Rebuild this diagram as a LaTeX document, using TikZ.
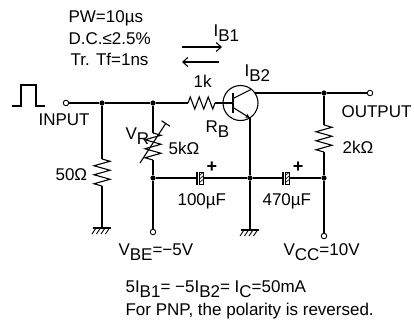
\documentclass[tikz,border=0pt]{standalone}
\usepackage{fontspec}
\setmainfont{Liberation Sans}
\usetikzlibrary{arrows.meta}
\newcommand\lowr[1]{\raisebox{-5pt}{#1}}
\begin{document}
\begin{tikzpicture}[x=1pt,y=-1pt,line width=1.1pt,
  lbl/.style={inner sep=0pt,anchor=base west,font=\fontsize{17}{20}\selectfont},
  plus/.style={inner sep=0pt,font=\fontsize{18}{19}\selectfont\bfseries},
  dot/.style={circle,fill,inner sep=0pt,minimum size=5.2pt},
  term/.style={circle,draw,fill=white,inner sep=0pt,minimum size=5.5pt,line width=0.9pt},
  resh/.pic={\draw (0,0) -- (2.25,-6) -- (6.75,6) -- (11.25,-6) -- (15.75,6) -- (20.25,-6) -- (24.75,6) -- (27,0);},
  resv/.pic={\draw (0,0) -- (8,2.25) -- (-8,6.75) -- (8,11.25) -- (-8,15.75) -- (8,20.25) -- (-8,24.75) -- (0,27);},
  gnd/.pic={\draw (-9,0) -- (9,0); \foreach \i in {-6,-1.5,3,7.5} \draw[line width=0.9pt] (\i,0) -- (\i-4,6);},
  ecap/.pic={\draw (0,-6.5) -- (0,6.5);
    \draw[line width=0.7pt] (2.5,-6) rectangle (6,6);
    \draw[line width=0.6pt] (2.5,-2.5) -- (6,-5.5) (2.5,1) -- (6,-2) (2.5,4.5) -- (6,1.5);},
  iarrow/.style={-{Straight Barb[length=5pt,width=9pt]}}
]
\useasboundingbox (0,0) rectangle (414,325);

% top texts
\node[lbl] (pw) at (68,22.5) {PW=10µs};
\node[lbl] (dc) at (68,44) {D.C.≤2.5\%};
\node[lbl] (trf) at (70,65) {Tr. Tf=1ns};
\node[lbl] (ib1) at (213,36) {I\lowr{B1}};
\coordinate (a1) at (182,47); \coordinate (a2) at (222,47);
\coordinate (a3) at (219,62); \coordinate (a4) at (182,62);
\draw[iarrow] (a1) -- (a2);
\draw[iarrow] (a3) -- (a4);

% pulse
\draw[line width=1.3pt] (12,106) -- (21,106) -- (21,85) -- (36,85) -- (36,106) -- (45,106);

% nodes
\node[term] (inp) at (66,103) {};
\node[dot] (j1) at (102,103) {};
\node[dot] (j2) at (153,103) {};
\node[dot] (j3) at (153,178) {};
\node[dot] (j4) at (250,178) {};
\node[dot] (j5) at (324,178) {};
\node[dot] (j6) at (324,93) {};
\node[term] (out) at (370,93) {};
\node[term] (vbe) at (153,232) {};
\node[term] (vcc) at (324,236) {};

% input line and RB
\coordinate (rbL) at (188,103); \coordinate (rbR) at (215,103);
\coordinate (bb) at (233,103);
\draw (inp) -- (j1) -- (j2) -- (rbL);
\pic at (rbL) {resh};
\draw (rbR) -- (bb);

% transistor
\node[circle,draw,minimum size=35pt,inner sep=0pt] (tr) at (240.5,103) {};
\draw (233,93) -- (233,113);
\draw (233,98.5) -- (251,89.5);
\coordinate (coll) at (255,93);
\coordinate (emit) at (250,118);
\draw[-{Stealth[length=5pt,width=4.5pt]}] (233,107.5) -- (emit);
\draw (emit) -- (j4);
\draw (coll) -- (j6) -- (out);

% 2k
\coordinate (r2T) at (324,125); \coordinate (r2B) at (324,152);
\draw (j6) -- (r2T);
\pic at (r2T) {resv};
\draw (r2B) -- (j5);

% 50 ohm
\coordinate (r5T) at (102,159); \coordinate (r5B) at (102,186);
\coordinate (g1) at (102,228);
\draw (j1) -- (r5T);
\pic at (r5T) {resv};
\draw (r5B) -- (g1);
\pic at (g1) {gnd};

% VR
\coordinate (vrT) at (153,133); \coordinate (vrB) at (153,160);
\draw (j2) -- (vrT);
\pic at (vrT) {resv};
\draw (vrB) -- (j3);
\coordinate (vra) at (140,163); \coordinate (vrb) at (166,123);
\draw[-{Bar[width=10pt]}] (vra) -- (vrb);

% capacitors
\coordinate (c1L) at (197,178); \coordinate (c1R) at (203,178);
\coordinate (c2L) at (283,178); \coordinate (c2R) at (289,178);
\draw (j3) -- (c1L);
\pic at (c1L) {ecap};
\draw (c1R) -- (j4) -- (c2L);
\pic at (c2L) {ecap};
\draw (c2R) -- (j5);
\node[plus] (p1) at (212,167) {+};
\node[plus] (p2) at (298,167) {+};

% bottom
\coordinate (g2) at (250,230);
\draw (j3) -- (vbe);
\draw (j4) -- (g2);
\pic at (g2) {gnd};
\draw (j5) -- (vcc);

% labels
\node[lbl] (linp) at (38,125.5) {INPUT};
\node[lbl] (l50) at (55,180.5) {50Ω};
\node[lbl] (lvr) at (125,139) {V\lowr{R}};
\node[lbl] (l5k) at (168,154) {5kΩ};
\node[lbl] (l1k) at (193,87) {1k};
\node[lbl] (lrb) at (205,132) {R\lowr{B}};
\node[lbl] (lib2) at (244,76) {I\lowr{B2}};
\node[lbl] (lout) at (341,117) {OUTPUT};
\node[lbl] (l2k) at (342,153.5) {2kΩ};
\node[lbl] (lc1) at (177,205) {100µF};
\node[lbl] (lc2) at (262,205) {470µF};
\node[lbl] (lvbe) at (118,255) {V\lowr{BE}=−5V};
\node[lbl] (lvcc) at (283,255) {V\lowr{CC}=10V};
\node[lbl] (eq) at (125,292) {5I\lowr{B1}= −5I\lowr{B2}= I\lowr{C}=50mA};
\node[lbl] (pnp) at (125,315) {For PNP, the polarity is reversed.};
\end{tikzpicture}
\end{document}
